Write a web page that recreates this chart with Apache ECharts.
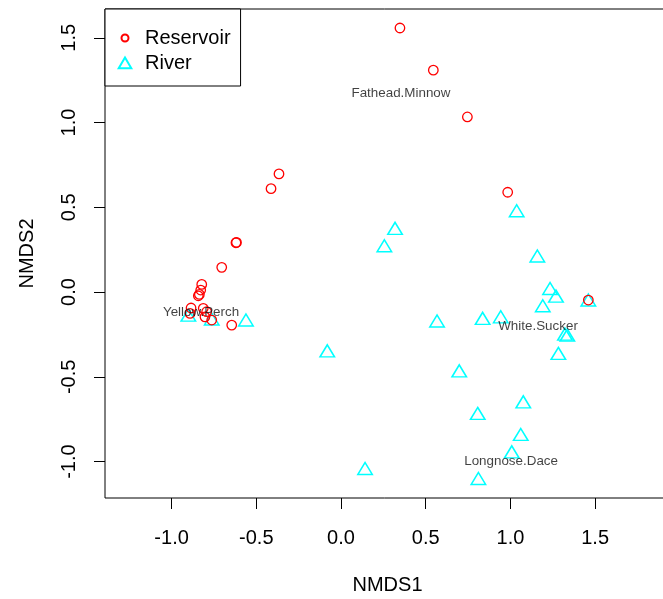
<!DOCTYPE html>
<html>
<head>
<meta charset="utf-8">
<script src="https://cdn.jsdelivr.net/npm/echarts@6.0.0/dist/echarts.min.js"></script>
<style>
html,body{margin:0;padding:0;background:#fff;}
#chart{width:663px;height:599px;}
</style>
</head>
<body>
<div id="chart"></div>
<script>
// ---- data (NMDS site scores) ----
const reservoirX = [0.348, 0.545, 0.746, 0.984, -0.366, -0.413, -0.620, -0.617, -0.704, -0.822, -0.828, -0.836, -0.842, -0.813, -0.793, -0.891, -0.885, -0.803, -0.763, -0.645, 1.460];
const reservoirY = [1.558, 1.309, 1.033, 0.589, 0.697, 0.610, 0.291, 0.293, 0.146, 0.045, 0.012, -0.014, -0.022, -0.096, -0.116, -0.126, -0.094, -0.146, -0.165, -0.195, -0.047];
const riverX = [0.319, 0.256, 1.037, 1.159, 1.234, 1.269, 1.191, 1.460, 1.322, 1.336, 1.283, 0.943, 0.836, 0.567, -0.081, 0.698, 1.076, 0.807, 1.061, 1.008, 0.811, 0.142, -0.901, -0.763, -0.561];
const riverY = [0.376, 0.273, 0.480, 0.213, 0.021, -0.024, -0.081, -0.047, -0.248, -0.254, -0.362, -0.146, -0.155, -0.171, -0.347, -0.465, -0.648, -0.716, -0.840, -0.943, -1.100, -1.041, -0.136, -0.159, -0.165];
// species labels
const speciesNames = ['Fathead.Minnow', 'Yellow.Perch', 'White.Sucker', 'Longnose.Dace'];
const speciesX = [0.354, -0.826, 1.163, 1.004];
const speciesY = [1.175, -0.118, -0.201, -0.998];
// axis ticks
const xTicks = [-1.0, -0.5, 0.0, 0.5, 1.0, 1.5];
const yTicks = [-1.0, -0.5, 0.0, 0.5, 1.0, 1.5];
const groupNames = ['Reservoir', 'River'];

const FONT = '"Liberation Sans", Arial, Helvetica, sans-serif';
const pairs = (xs, ys) => xs.map((x, i) => [x, ys[i]]);

const chart = echarts.init(document.getElementById('chart'), null, {renderer: 'canvas'});
const axisCommon = {
  type: 'value',
  splitLine: {show: false},
  axisLine: {show: false, onZero: false},
  axisTick: {show: true, inside: false, length: 11, lineStyle: {color: '#000', width: 1}},
  nameLocation: 'middle',
  nameTextStyle: {fontFamily: FONT, fontSize: 20, color: '#000'}
};
chart.setOption({
  animation: false,
  backgroundColor: '#fff',
  textStyle: {fontFamily: FONT},
  grid: {left: 105, top: 9, right: -7, bottom: 101, show: true, borderColor: '#000', borderWidth: 1, outerBoundsMode: 'none', containLabel: false},
  xAxis: Object.assign({}, axisCommon, {
    min: -1.393, max: 1.942,
    name: 'NMDS1', nameGap: 77,
    axisTick: Object.assign({}, axisCommon.axisTick, {customValues: xTicks}),
    axisLabel: {customValues: xTicks, formatter: v => v.toFixed(1), fontFamily: FONT, fontSize: 20, color: '#000', margin: 30}
  }),
  yAxis: Object.assign({}, axisCommon, {
    min: -1.215, max: 1.670,
    name: 'NMDS2', nameGap: 68,
    axisTick: Object.assign({}, axisCommon.axisTick, {customValues: yTicks}),
    axisLabel: {customValues: yTicks, formatter: v => v.toFixed(1), rotate: 90, fontFamily: FONT, fontSize: 20, color: '#000', margin: 26}
  }),
  legend: {
    orient: 'vertical', left: 105, top: 9,
    padding: [19, 10, 13, 4], itemGap: 5,
    itemWidth: 30, itemHeight: 14,
    borderColor: '#000', borderWidth: 1, backgroundColor: '#fff',
    textStyle: {fontFamily: FONT, fontSize: 20, color: '#000'},
    data: [
      {name: groupNames[0], icon: 'path://M0,0M30,14M18.5,7A3.5,3.5,0,1,1,11.5,7A3.5,3.5,0,1,1,18.5,7Z'},
      {name: groupNames[1], icon: 'path://M0,0M30,14M15,1.5L21.3,12.3L8.7,12.3Z'}
    ]
  },
  series: [
    {
      name: groupNames[0], type: 'scatter', symbol: 'circle', symbolSize: 9.5,
      itemStyle: {color: 'rgba(0,0,0,0)', borderColor: '#FF0000', borderWidth: 1.3, opacity: 1},
      emphasis: {disabled: true},
      data: pairs(reservoirX, reservoirY), z: 3
    },
    {
      name: groupNames[1], type: 'scatter', symbol: 'triangle', symbolSize: [14.5, 12],
      itemStyle: {color: 'rgba(0,0,0,0)', borderColor: '#00FFFF', borderWidth: 1.5, opacity: 1},
      emphasis: {disabled: true},
      data: pairs(riverX, riverY), z: 2
    },
    {
      name: 'species', type: 'scatter', symbolSize: 0, silent: true,
      label: {show: true, position: 'inside', formatter: p => p.name, fontFamily: FONT, fontSize: 13.4, color: '#111'},
      data: speciesNames.map((n, i) => ({name: n, value: [speciesX[i], speciesY[i]]})), z: 4
    }
  ]
});
</script>
</body>
</html>
